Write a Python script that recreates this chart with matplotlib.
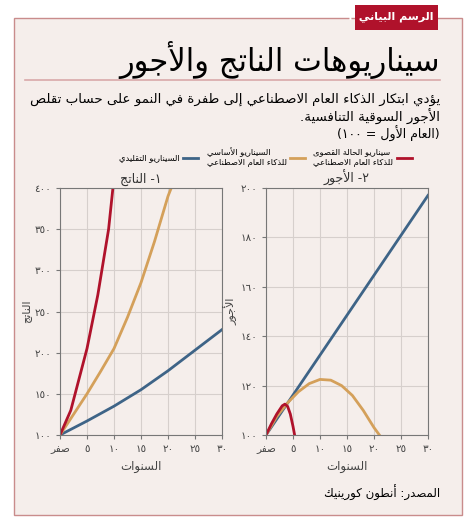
import re
import numpy as np
import matplotlib
matplotlib.use('Agg')
import matplotlib.pyplot as plt
from matplotlib.patches import Rectangle
from matplotlib.lines import Line2D

# ---- بيانات الرسم ----
years_out = [0, 2, 4, 5, 7, 9, 9.8]
out_aggressive = [100, 130, 180, 205, 270, 350, 400]
years_out_base = [0, 2.5, 5, 7.5, 10, 12.5, 15, 17.5, 20, 20.6]
out_base = [100, 125, 150, 177, 205, 243, 285, 335, 390, 400]
years_out_trad = [0, 5, 10, 15, 20, 25, 30]
out_trad = [100, 117, 135, 155, 178, 203, 228]

years_w_aggr = [0, 1, 2, 3, 3.5, 4, 4.5, 5, 5.3]
w_aggressive = [100, 104.5, 108.5, 111.8, 112.5, 111.6, 108.5, 103.5, 100]
years_w_base = [0, 2, 4, 6, 8, 10, 12, 14, 16, 18, 20, 21]
w_base = [100, 107.5, 113, 117.5, 120.8, 122.5, 122.2, 120, 116, 110, 103, 100]
years_w_trad = [0, 30]
w_trad = [100, 197]

out_ticks = [100, 150, 200, 250, 300, 350, 400]
wage_ticks = [100, 120, 140, 160, 180, 200]
x_ticks = [0, 5, 10, 15, 20, 25, 30]

RED, ORANGE, BLUE = '#b0122b', '#d4a05a', '#3e6487'
BG = '#f5eeeb'

# ---- تشكيل الحروف العربية يدويا (لا توجد مكتبة تشكيل) ----
FORMS = {}
four = 'ئبتثجحخسشصضطظعغفقكلمنهي'
four_codes = [0xFE89, 0xFE8F, 0xFE95, 0xFE99, 0xFE9D, 0xFEA1, 0xFEA5, 0xFEB1, 0xFEB5,
              0xFEB9, 0xFEBD, 0xFEC1, 0xFEC5, 0xFEC9, 0xFECD, 0xFED1, 0xFED5, 0xFED9,
              0xFEDD, 0xFEE1, 0xFEE5, 0xFEE9, 0xFEF1]
for ch, c in zip(four, four_codes):
    FORMS[ch] = (c, c + 1, c + 2, c + 3)
two = 'آأؤإاةدذرزوى'
two_codes = [0xFE81, 0xFE83, 0xFE85, 0xFE87, 0xFE8D, 0xFE93, 0xFEA9, 0xFEAB, 0xFEAD,
             0xFEAF, 0xFEED, 0xFEEF]
for ch, c in zip(two, two_codes):
    FORMS[ch] = (c, c + 1, None, None)
FORMS['ء'] = (0xFE80, None, None, None)
LAMALEF = {'آ': 0xFEF5, 'أ': 0xFEF7, 'إ': 0xFEF9, 'ا': 0xFEFB}


def joins_next(ch):
    return ch in FORMS and FORMS[ch][2] is not None


def shape(word):
    out = []
    i = 0
    n = len(word)
    while i < n:
        ch = word[i]
        prev = word[i - 1] if i > 0 else ''
        if ch not in FORMS:
            out.append(ch)
            i += 1
            continue
        pj = joins_next(prev)
        if out and out[-1] and 0xFEF5 <= ord(out[-1]) <= 0xFEFC:
            pj = False
        if ch == 'ل' and i + 1 < n and word[i + 1] in LAMALEF:
            c = LAMALEF[word[i + 1]]
            out.append(chr(c + 1 if pj else c))
            i += 2
            continue
        nj = i + 1 < n and word[i + 1] in FORMS
        iso, fin, ini, med = FORMS[ch]
        if pj and nj and med:
            c = med
        elif pj and fin:
            c = fin
        elif nj and ini:
            c = ini
        else:
            c = iso
        out.append(chr(c))
        i += 1
    return ''.join(out)


def ar(text):
    lines = []
    for line in text.split('\n'):
        s = shape(line)[::-1]
        # إعادة الأرقام إلى ترتيبها
        s = re.sub(r'[0-9\u0660-\u0669]+', lambda m: m.group(0)[::-1], s)
        s = s.translate(str.maketrans('()', ')('))
        lines.append(s)
    return '\n'.join(lines)


AD = str.maketrans('0123456789', '٠١٢٣٤٥٦٧٨٩')


def adig(v):
    return str(v).translate(AD)


plt.rcParams['font.family'] = ['DejaVu Sans']
fig = plt.figure(figsize=(4.74, 5.26), dpi=100)
fig.patch.set_facecolor('white')

fig.patches.append(Rectangle((14 / 474, 1 - 515 / 526), 448 / 474, 497 / 526,
                             transform=fig.transFigure, facecolor=BG,
                             edgecolor='#c98c8c', linewidth=1.0, zorder=-2))
fig.patches.append(Rectangle((355 / 474, 1 - 30 / 526), 83 / 474, 25 / 526,
                             transform=fig.transFigure, facecolor=RED,
                             edgecolor='none', zorder=-1))
fig.text(433 / 474, 1 - 17 / 526, ar('الرسم البياني ٢'), color='white', fontsize=8,
         fontweight='bold', ha='right', va='center')
fig.text(440 / 474, 1 - 60 / 526, ar('سيناريوهات الناتج والأجور'), fontsize=22,
         ha='right', va='center')
fig.add_artist(Line2D([25 / 474, 440 / 474], [1 - 80 / 526, 1 - 80 / 526],
                      color='#d9a9a9', lw=1.2, transform=fig.transFigure))
fig.text(440 / 474, 1 - 109 / 526,
         ar('يؤدي ابتكار الذكاء العام الاصطناعي إلى طفرة في النمو على حساب تقلص\nالأجور السوقية التنافسية.'),
         fontsize=9.6, ha='right', va='center', linespacing=1.2)
fig.text(440 / 474, 1 - 134 / 526, ar('(العام الأول = ١٠٠)'), fontsize=9,
         ha='right', va='center')

handles = [Line2D([], [], color=BLUE, lw=2), Line2D([], [], color=ORANGE, lw=2),
           Line2D([], [], color=RED, lw=2)]
labels = [ar('السيناريو التقليدي'),
          ar('السيناريو الأساسي\nللذكاء العام الاصطناعي'),
          ar('سيناريو الحالة القصوى\nللذكاء العام الاصطناعي')]
fig.legend(handles, labels, loc='center', bbox_to_anchor=(0.56, 1 - 157 / 526), ncol=3,
           frameon=False, markerfirst=False, fontsize=6, handlelength=1.8,
           columnspacing=1.0, handletextpad=0.4)

ax1 = fig.add_axes([60 / 474, 1 - 435 / 526, 162 / 474, 247 / 526])
ax2 = fig.add_axes([266 / 474, 1 - 435 / 526, 162 / 474, 247 / 526])

ax1.plot(years_out_trad, out_trad, color=BLUE, lw=2)
ax1.plot(years_out_base, out_base, color=ORANGE, lw=2)
ax1.plot(years_out, out_aggressive, color=RED, lw=2)
ax2.plot(years_w_trad, w_trad, color=BLUE, lw=2)
ax2.plot(years_w_base, w_base, color=ORANGE, lw=2)
ax2.plot(years_w_aggr, w_aggressive, color=RED, lw=2)

for ax, ticks, title, ylab in [(ax1, out_ticks, '١- الناتج', 'الناتج'),
                               (ax2, wage_ticks, '٢- الأجور', 'الأجور')]:
    ax.set_facecolor(BG)
    ax.set_xlim(0, 30)
    ax.set_ylim(ticks[0], ticks[-1])
    ax.set_xticks(x_ticks)
    ax.set_xticklabels([ar('صفر')] + [adig(v) for v in x_ticks[1:]], fontsize=7.5)
    ax.set_yticks(ticks)
    ax.set_yticklabels([adig(v) for v in ticks], fontsize=7.5)
    ax.grid(color='#d6cfcc', lw=0.8)
    ax.tick_params(length=3, color='#777777', labelcolor='#444444')
    for sp in ax.spines.values():
        sp.set_color('#777777')
        sp.set_linewidth(0.8)
    ax.set_title(ar(title), fontsize=9, pad=4, color='#333333')
    ax.set_xlabel(ar('السنوات'), fontsize=8.5, color='#444444')
    ax.set_ylabel(ar(ylab), fontsize=8, color='#444444', labelpad=2)

fig.text(440 / 474, 1 - 493 / 526, ar('المصدر: أنطون كورينيك'), fontsize=8.5,
         ha='right', va='center')

fig.savefig('out.png', dpi=100, facecolor=fig.get_facecolor())
